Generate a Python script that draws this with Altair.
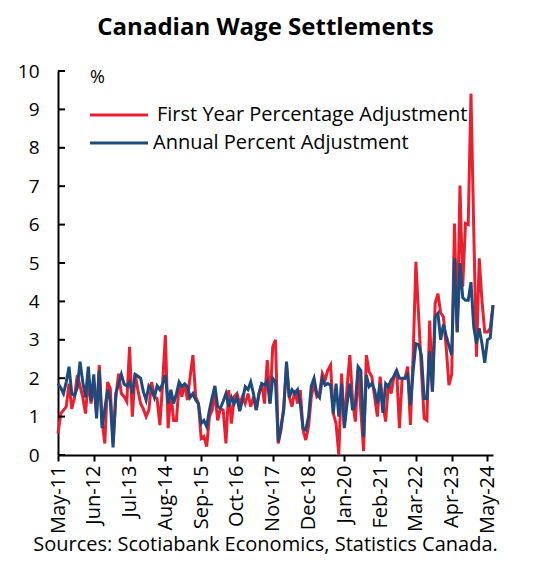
import json
import altair as alt
import pandas as pd

x_labels = ["May-11", "Jun-12", "Jul-13", "Aug-14", "Sep-15", "Oct-16", "Nov-17",
            "Dec-18", "Jan-20", "Feb-21", "Mar-22", "Apr-23", "May-24"]

series_names = ["First Year Percentage Adjustment", "Annual Percent Adjustment"]

# monthly values, May-2011 onward
first_year = [
    0.56, 1.08, 1.17, 1.26, 1.86, 1.2, 1.5, 2.08, 1.8, 1.5,
    1.08, 1.95, 1.34, 1.86, 1.08, 2.34, 0.9, 0.3, 1.9, 1.73,
    0.3, 1.5, 2.12, 1.6, 1.52, 1.39, 2.82, 1.0, 2.12, 1.7,
    1.34, 1.2, 1.0, 1.17, 1.9, 1.52, 1.47, 0.78, 1.86, 3.12,
    0.7, 1.6, 0.9, 0.9, 1.86, 1.52, 1.86, 1.43, 2.04, 2.6,
    1.52, 1.34, 0.43, 0.48, 0.22, 1.0, 1.17, 1.6, 0.9, 1.21,
    1.17, 0.3, 1.69, 0.82, 1.52, 1.6, 1.34, 1.52, 1.34, 1.6,
    1.26, 1.52, 1.17, 1.6, 1.86, 1.34, 2.47, 1.34, 2.82, 3.0,
    0.3, 0.65, 1.26, 2.3, 1.52, 1.26, 1.69, 1.34, 1.69, 0.65,
    0.39, 0.74, 1.52, 1.86, 1.52, 1.6, 2.12, 1.95, 2.21, 2.34,
    1.08, 0.82, 0.0, 2.12, 0.74, 1.78, 2.6, 1.43, 0.87, 2.21,
    1.17, 0.1, 2.6, 2.17, 2.04, 1.52, 1.0, 2.04, 1.34, 0.87,
    1.86, 1.6, 2.04, 2.21, 0.7, 1.99, 1.99, 2.3, 0.78, 2.6,
    5.03, 3.6, 2.2, 0.95, 0.9, 3.5, 1.65, 3.95, 4.2, 3.7,
    3.6, 2.8, 1.82, 2.1, 6.03, 3.2, 7.02, 4.38, 6.03, 6.0,
    9.41, 5.9, 2.56, 5.12, 4.0, 3.2, 3.2, 3.3, 3.9,
]

annual = [
    1.86, 1.75, 1.6, 1.9, 2.3, 1.6, 1.55, 1.75, 2.43, 1.9,
    1.5, 2.3, 1.4, 2.1, 0.95, 2.2, 0.7, 1.2, 1.7, 1.4,
    0.2, 1.6, 1.85, 2.1, 1.85, 1.8, 1.9, 1.6, 2.1, 2.05,
    2.0, 1.65, 1.43, 1.8, 1.7, 1.5, 1.8, 1.7, 1.85, 2.08,
    1.34, 1.7, 1.34, 1.6, 1.9, 1.78, 1.85, 1.78, 1.5, 1.6,
    1.43, 1.34, 0.82, 0.9, 0.74, 1.17, 1.5, 1.8, 1.26, 1.22,
    1.4, 1.6, 1.26, 1.5, 1.34, 1.5, 1.14, 1.43, 1.78, 1.7,
    1.9, 1.6, 1.17, 1.6, 1.86, 1.82, 1.93, 1.34, 2.0, 1.9,
    0.35, 0.74, 1.17, 2.43, 1.5, 1.7, 1.6, 1.7, 1.34, 0.7,
    0.65, 1.0, 1.8, 2.0, 1.6, 1.5, 2.0, 1.82, 1.86, 1.82,
    1.08, 1.86, 1.0, 1.86, 0.7, 1.34, 1.86, 1.17, 1.34, 2.3,
    2.2, 0.48, 2.08, 1.78, 1.86, 1.69, 1.34, 1.86, 1.1, 1.86,
    1.78, 1.95, 2.04, 2.2, 2.0, 2.0, 2.0, 2.1, 1.3, 2.2,
    2.9, 2.87, 2.6, 1.47, 1.47, 2.7, 1.65, 3.6, 3.69, 3.0,
    3.4, 3.1, 2.85, 2.6, 5.12, 3.2, 5.0, 4.1, 4.03, 4.03,
    4.5, 3.34, 2.9, 3.3, 2.9, 2.4, 3.0, 3.05, 3.9,
]

y_ticks = list(range(0, 11))

rows = []
for i, v in enumerate(first_year):
    rows.append({"m": i, "value": v, "series": series_names[0]})
for i, v in enumerate(annual):
    rows.append({"m": i, "value": v, "series": series_names[1]})
df = pd.DataFrame(rows)

RED = "#E8202F"
BLUE = "#1F4A7C"
FONT = "Open Sans"

x_enc = alt.X(
    "m:Q",
    scale=alt.Scale(domain=[0, len(annual) - 1], nice=False, zero=False),
    axis=alt.Axis(
        values=list(range(0, 157, 13)),
        labelExpr=f"{json.dumps(x_labels)}[round(datum.value/13)]",
        labelAngle=270,
        labelFontSize=20,
        labelFont=FONT,
        labelColor="black",
        labelPadding=4,
        labelOverlap=False,
        tickSize=6,
        tickWidth=2,
        tickColor="black",
        domainColor="black",
        domainWidth=2,
        grid=False,
        title="Sources: Scotiabank Economics, Statistics Canada.",
        titleFont=FONT,
        titleFontSize=20,
        titleFontWeight="normal",
        titleColor="black",
        titlePadding=1,
        titleX=207,
    ),
)

y_axis = alt.Axis(
    values=y_ticks,
    labelFontSize=19,
    labelFont=FONT,
    labelColor="black",
    labelPadding=2,
    labelOverlap=False,
    ticks=True,
    tickSize=17,
    tickOpacity=0,
    domainColor="black",
    domainWidth=2,
    grid=False,
    title="%",
    titleAngle=0,
    titleFont=FONT,
    titleFontSize=18,
    titleFontWeight="normal",
    titleColor="black",
    titleX=39,
    titleY=6,
    titleAlign="center",
    titleBaseline="middle",
)
y_scale = alt.Scale(domain=[0, 10], nice=False)

y_enc = alt.Y("value:Q", scale=y_scale, axis=y_axis)

color_enc = alt.Color(
    "series:N",
    scale=alt.Scale(domain=series_names, range=[RED, BLUE]),
    legend=None,
)

base = alt.Chart(df)
red_line = base.transform_filter(alt.datum.series == series_names[0]).mark_line(
    strokeWidth=3
).encode(x=x_enc, y=y_enc, color=color_enc)
blue_line = base.transform_filter(alt.datum.series == series_names[1]).mark_line(
    strokeWidth=3
).encode(x=x_enc, y=y_enc, color=color_enc)

tick_df = pd.DataFrame({"value": y_ticks})
inner_ticks = alt.Chart(tick_df).mark_rule(color="black", strokeWidth=2).encode(
    y=y_enc, x=alt.value(0), x2=alt.value(7)
)

# manual legend
leg_df = pd.DataFrame({"series": series_names})
leg_red_line = alt.Chart(leg_df).transform_filter(
    alt.datum.series == series_names[0]
).mark_rule(color=RED, strokeWidth=3).encode(
    x=alt.value(32), x2=alt.value(90), y=alt.value(44)
)
leg_red_text = alt.Chart(leg_df).transform_filter(
    alt.datum.series == series_names[0]
).mark_text(align="left", baseline="middle", font=FONT, fontSize=20, color="black").encode(
    text="series:N", x=alt.value(99), y=alt.value(44)
)
leg_blue_line = alt.Chart(leg_df).transform_filter(
    alt.datum.series == series_names[1]
).mark_rule(color=BLUE, strokeWidth=3).encode(
    x=alt.value(32), x2=alt.value(90), y=alt.value(72)
)
leg_blue_text = alt.Chart(leg_df).transform_filter(
    alt.datum.series == series_names[1]
).mark_text(align="left", baseline="middle", font=FONT, fontSize=20, color="black").encode(
    text="series:N", x=alt.value(95), y=alt.value(72)
)

chart = alt.layer(
    red_line, blue_line, inner_ticks,
    leg_red_line, leg_red_text, leg_blue_line, leg_blue_text,
).properties(
    width=435,
    height=384,
    title=alt.TitleParams(
        "Canadian Wage Settlements",
        fontSize=24,
        font=FONT,
        fontWeight="bold",
        color="black",
        anchor="middle",
        frame="group",
        offset=22,
        dx=-10,
    ),
    autosize=alt.AutoSizeParams(type="none"),
    padding={"left": 50, "top": 63, "right": 30, "bottom": 110},
).configure_view(stroke=None)

chart.save("out.html", embed_options={"renderer": "svg", "actions": False})
